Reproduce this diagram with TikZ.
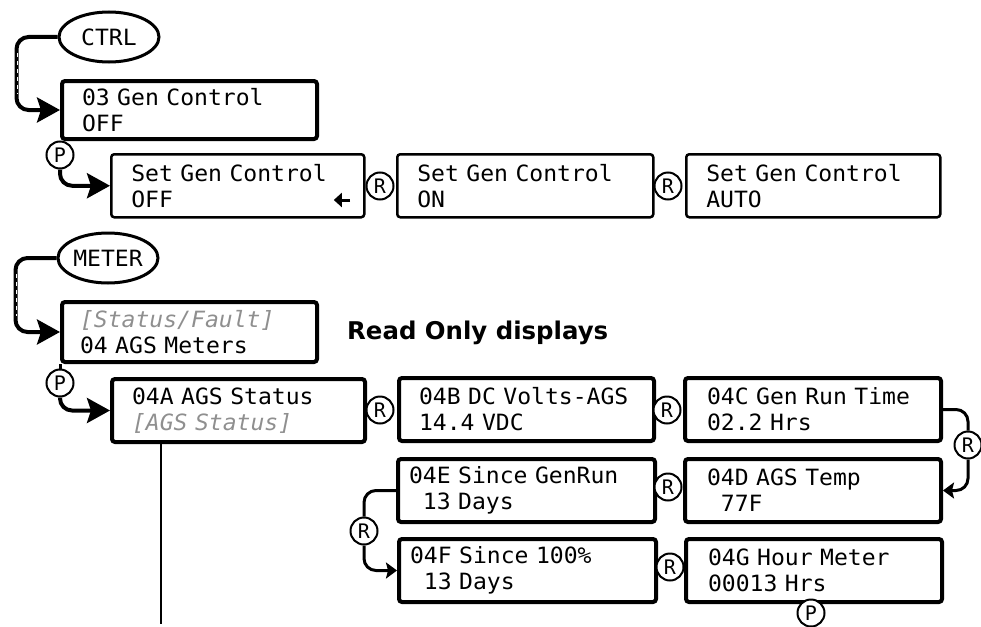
\documentclass[tikz,border=0pt]{standalone}
\usepackage{fontspec}
\usetikzlibrary{arrows.meta,calc,shapes.geometric}
\newfontfamily\monof{DejaVu Sans Mono}[FakeStretch=1.03]
\newfontfamily\keyf{DejaVu Sans Mono}
\newfontfamily\headf{DejaVu Sans}
\newcommand\MonoTxt{\monof\fontsize{22.4}{26}\selectfont}
\newcommand\KeyTxt{\keyf\fontsize{20}{20}\selectfont}
\newcommand\HeadTxt{\headf\bfseries\fontsize{24.4}{28}\selectfont}
\definecolor{statgray}{HTML}{8F8F8F}
\newcommand\gr[1]{\textcolor{statgray}{\itshape #1}}
\newcommand\Ln[1]{\mbox{#1}}
\begin{document}
\begin{tikzpicture}[x=1pt,y=-1pt,
  box/.style={draw, line width=4pt, rounded corners=3pt, anchor=north west,
    inner ysep=0pt, align=left, font=\MonoTxt, minimum height=63pt},
  thinbox/.style={box, line width=2.5pt},
  key/.style={draw, circle, line width=2pt, minimum size=27pt, inner sep=0pt, font=\KeyTxt, fill=white},
  oval/.style={draw, ellipse, line width=3pt, minimum width=100pt, minimum height=50pt, inner sep=0pt, font=\MonoTxt},
  conn/.style={line width=4pt, rounded corners=12pt},
  bigarrow/.style={-{Stealth[length=23pt,width=25pt,inset=4pt]}},
  smallarrow/.style={-{Stealth[length=11pt,width=16pt,inset=2pt]}},
  dashover/.style={white, line width=1.4pt, dash pattern=on 4pt off 4pt},
]
\useasboundingbox (0,0) rectangle (981,626);

% ---------- CTRL part ----------
\node[oval] (ctrl) at (109,37) {CTRL};
\node[box, minimum width=255pt, minimum height=58pt, inner xsep=20pt, text width=215pt] (b03) at (60,79) {\Ln{03 Gen Control}\\OFF};
\draw[conn, bigarrow] (ctrl.west) -- ($(ctrl.west)+(-41,0)$) |- (b03.west);
\draw[dashover] ($(ctrl.west)+(-40,16)$) -- ($(ctrl.west |- b03.west)+(-40,-16)$);

\node[key] (p1) at (60,155) {P};
\draw[line width=3pt] (b03.south west) -- (p1.north);

\node[thinbox, minimum width=253pt, inner xsep=20pt, text width=213pt] (setoff) at (110,153) {\Ln{Set Gen Control}\\OFF};
\draw[conn, bigarrow] (p1.south) |- (setoff.west);
\node[minimum width=16pt, minimum height=10pt, inner sep=0pt] (larr) at (342,200) {};
\draw[line width=3pt, -{Triangle[length=8pt,width=14pt]}] (larr.east) -- (larr.west);

\node[key] (r1) at (380,186) {R};
\node[thinbox, minimum width=256pt, inner xsep=20pt, text width=216pt] (seton) at (396,153) {\Ln{Set Gen Control}\\ON};
\node[key] (r2) at (668,186) {R};
\node[thinbox, minimum width=254pt, inner xsep=20pt, text width=214pt] (setauto) at (685,153) {\Ln{Set Gen Control}\\AUTO};

% ---------- METER part ----------
\node[oval] (meter) at (108,258) {METER};
\node[box, minimum width=255pt, minimum height=60pt, inner xsep=18pt, text width=219pt] (status) at (60,300) {\Ln{\gr{[Status/Fault]}}\\\Ln{04 AGS Meters}};
\draw[conn, bigarrow] (meter.west) -- ($(meter.west)+(-41,0)$) |- (status.west);
\draw[dashover] ($(meter.west)+(-40,16)$) -- ($(meter.west |- status.west)+(-40,-16)$);

\node[anchor=base west, font=\HeadTxt, inner sep=0pt] (ro) at (347,339) {Read Only displays};

\node[key] (p2) at (60,383) {P};
\draw[line width=3pt] (status.south west) -- (p2.north);

\node[box, minimum width=253pt, inner xsep=20pt, text width=213pt] (b04a) at (110,377) {\Ln{04A AGS Status}\\\Ln{\gr{[AGS Status]}}};
\draw[conn, bigarrow] (p2.south) |- (b04a.west);
\coordinate (vend) at (161,624);
\draw[line width=2pt] (b04a.south -| vend) -- (vend);

\node[key] (r3) at (380,410) {R};
\node[box, minimum width=255pt, inner xsep=20pt, text width=215pt] (b04b) at (397,376) {\Ln{04B DC Volts-AGS}\\\Ln{14.4 VDC}};
\node[key] (r4) at (667,410) {R};
\node[box, minimum width=256pt, inner xsep=22pt, text width=212pt] (b04c) at (683,376) {\Ln{04C Gen Run Time}\\\Ln{02.2 Hrs}};

\node[key] (r5) at (968,445) {R};
\draw[conn, line width=3pt] (b04c.east) -| (r5.north);
\node[box, minimum width=256pt, inner xsep=22pt, text width=212pt] (b04d) at (683,457) {\Ln{04D AGS Temp}\\\Ln{\phantom{0}77F}};
\draw[conn, line width=3pt, smallarrow] (r5.south) |- (b04d.east);

\node[box, minimum width=257pt, inner xsep=11pt, text width=235pt] (b04e) at (396,457) {\Ln{04E Since GenRun}\\\Ln{\phantom{0}13 Days}};
\node[key] (r6) at (668,487) {R};

\node[key] (r7) at (364,531) {R};
\draw[conn, line width=3pt] (b04e.west) -| (r7.north);
\node[box, minimum width=257pt, inner xsep=11pt, text width=235pt] (b04f) at (397,537) {\Ln{04F Since 100\%}\\\Ln{\phantom{0}13 Days}};
\draw[conn, line width=3pt, smallarrow] (r7.south) |- (b04f.west);

\node[key] (r8) at (670,567) {R};
\node[box, minimum width=256pt, inner xsep=22pt, text width=212pt] (b04g) at (684,537) {\Ln{04G Hour Meter}\\\Ln{00013 Hrs}};
\node[key] (p3) at (811,613) {P};
\end{tikzpicture}
\end{document}
